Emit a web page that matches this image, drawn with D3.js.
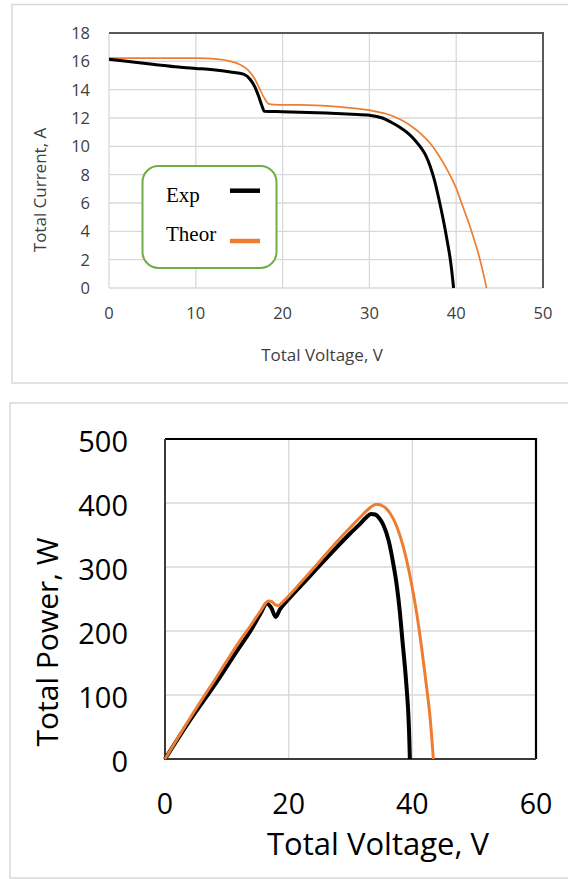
<!DOCTYPE html>
<html>
<head>
  <meta charset="utf-8">
  <title>I-V and P-V curves</title>
  <script src="https://d3js.org/d3.v7.min.js"></script>
  <style>
    body { margin: 0; background: #fff; }
    svg { display: block; font-family: "Open Sans", sans-serif; }
  </style>
</head>
<body>
<div id="chart"></div>
<script type="text/javascript">
  // ---- data ----
  // top chart: current vs voltage
  var expIvV = [0, 2, 5, 8, 10, 12, 14, 15.5, 16.3, 16.8, 17.2, 17.6, 17.9, 20, 25, 28, 30, 31.5, 32.5, 33.5, 34.5, 35.3, 36, 36.5, 37, 37.5, 38, 38.5, 39, 39.3, 39.5, 39.7];
  var expIvI = [16.15, 16.0, 15.8, 15.6, 15.5, 15.4, 15.25, 15.1, 14.7, 14.2, 13.6, 12.9, 12.48, 12.44, 12.35, 12.27, 12.2, 12.0, 11.7, 11.35, 10.9, 10.4, 9.85, 9.35, 8.6, 7.6, 6.3, 4.85, 3.2, 2.1, 1.15, 0];
  var theorIvV = [0, 5, 10, 12.5, 14, 15, 16, 16.8, 17.4, 17.9, 18.4, 19, 22, 25, 28, 30, 32, 33, 34, 35, 36, 37, 38, 39, 39.5, 40, 40.5, 41, 41.5, 42, 42.5, 43, 43.5];
  var theorIvI = [16.23, 16.23, 16.22, 16.15, 16.0, 15.8, 15.4, 14.75, 14.0, 13.4, 13.0, 12.95, 12.92, 12.85, 12.7, 12.55, 12.28, 12.05, 11.75, 11.35, 10.85, 10.22, 9.35, 8.3, 7.7, 7.05, 6.2, 5.35, 4.5, 3.55, 2.55, 1.35, 0];

  // bottom chart: power vs voltage
  var expPvV = [0, 4, 8.4, 12, 13.75, 15.5, 16.45, 17.2, 17.9, 18.6, 20, 22, 24.5, 27, 29.9, 31.5, 32.5, 33.3, 34, 34.6, 35.3, 36.2, 36.9, 37.5, 38, 38.4, 38.8, 39.1, 39.35, 39.5, 39.6];
  var expPvP = [0, 60, 121, 174, 199, 228, 243, 236, 222, 234, 250, 271, 297, 323, 352, 367, 377, 383, 382, 377, 366, 340, 306, 270, 228, 185, 144, 108, 71, 35, 0];
  var theorPvV = [0, 4, 8.4, 12, 13.75, 15.5, 16.7, 17.3, 17.8, 18.4, 19.1, 22, 24.5, 27, 29.9, 32, 33.2, 34.2, 35.3, 36.4, 37.5, 38.5, 39.6, 40.7, 41.5, 42.3, 42.9, 43.4];
  var theorPvP = [0, 63, 129, 183, 207, 232, 247, 246, 241, 240, 246, 276, 303, 331, 361, 382, 393, 398, 395, 384, 363, 333, 287, 228, 174, 113, 62, 0];

  var topXTicks = [0, 10, 20, 30, 40, 50];
  var topYTicks = [0, 2, 4, 6, 8, 10, 12, 14, 16, 18];
  var botXTicks = [0, 20, 40, 60];
  var botYTicks = [0, 100, 200, 300, 400, 500];
  var legendNames = ["Exp", "Theor"];

  var orange = "#ed7d31";
  var grid = "#d9d9d9";

  function pairs(xs, ys) {
    return xs.map(function (v, i) { return [v, ys[i]]; });
  }

  var svg = d3.select("#chart").append("svg")
    .attr("width", 568)
    .attr("height", 879);

  svg.append("rect").attr("width", 568).attr("height", 879).attr("fill", "#fff");

  // ================= top chart =================
  svg.append("rect")
    .attr("x", 12).attr("y", 4.5).attr("width", 600).attr("height", 378.5)
    .attr("fill", "none").attr("stroke", grid).attr("stroke-width", 1.5);

  var x1 = d3.scaleLinear().domain([0, 50]).range([109, 543]);
  var y1 = d3.scaleLinear().domain([0, 18]).range([288, 33]);

  var g1 = svg.append("g");

  g1.selectAll(".vg").data(topXTicks).enter().append("line")
    .attr("x1", function (d) { return x1(d); }).attr("x2", function (d) { return x1(d); })
    .attr("y1", y1(0)).attr("y2", y1(18))
    .attr("stroke", grid).attr("stroke-width", 1.3);
  g1.selectAll(".hg").data(topYTicks).enter().append("line")
    .attr("x1", x1(0)).attr("x2", x1(50))
    .attr("y1", function (d) { return y1(d); }).attr("y2", function (d) { return y1(d); })
    .attr("stroke", grid).attr("stroke-width", 1.3);

  // dark top + right border
  g1.append("path")
    .attr("d", "M" + x1(0) + "," + y1(18) + "H" + x1(50) + "V" + y1(0))
    .attr("fill", "none").attr("stroke", "#595959").attr("stroke-width", 2);

  g1.selectAll(".xt").data(topXTicks).enter().append("text")
    .attr("x", function (d) { return x1(d); })
    .attr("y", 319)
    .attr("text-anchor", "middle")
    .attr("font-size", 16.5).attr("fill", "#404040")
    .text(function (d) { return d; });
  g1.selectAll(".yt").data(topYTicks).enter().append("text")
    .attr("x", 90)
    .attr("y", function (d) { return y1(d); })
    .attr("dy", "0.36em")
    .attr("text-anchor", "end")
    .attr("font-size", 16.5).attr("fill", "#404040")
    .text(function (d) { return d; });

  g1.append("text")
    .attr("x", 322).attr("y", 361)
    .attr("text-anchor", "middle")
    .attr("font-size", 17).attr("fill", "#404040")
    .text("Total Voltage, V");
  g1.append("text")
    .attr("transform", "translate(46,190) rotate(-90)")
    .attr("text-anchor", "middle")
    .attr("font-size", 17).attr("fill", "#404040")
    .text("Total Current, A");

  var line1 = d3.line()
    .x(function (d) { return x1(d[0]); })
    .y(function (d) { return y1(d[1]); })
    .curve(d3.curveMonotoneX);

  g1.append("path").datum(pairs(theorIvV, theorIvI))
    .attr("d", line1).attr("fill", "none")
    .attr("stroke", orange).attr("stroke-width", 1.7);
  g1.append("path").datum(pairs(expIvV, expIvI))
    .attr("d", line1).attr("fill", "none")
    .attr("stroke", "#000").attr("stroke-width", 3)
    .attr("stroke-linejoin", "round");

  // legend
  var lg = g1.append("g");
  lg.append("rect")
    .attr("x", 142.5).attr("y", 166).attr("width", 134).attr("height", 102)
    .attr("rx", 16).attr("ry", 16)
    .attr("fill", "#fff").attr("stroke", "#70ad47").attr("stroke-width", 2);
  var legendColors = ["#000", orange];
  var legendY = [201.5, 241];
  var legendLineY = [190.7, 241];
  legendNames.forEach(function (n, i) {
    lg.append("text")
      .attr("x", 166).attr("y", legendY[i])
      .attr("font-family", "'Liberation Serif', 'Times New Roman', serif")
      .attr("font-size", 21).attr("fill", "#000")
      .text(n);
    lg.append("line")
      .attr("x1", 230).attr("x2", 260)
      .attr("y1", legendLineY[i]).attr("y2", legendLineY[i])
      .attr("stroke", legendColors[i]).attr("stroke-width", 4.5);
  });

  // ================= bottom chart =================
  svg.append("rect")
    .attr("x", 10).attr("y", 403).attr("width", 600).attr("height", 475)
    .attr("fill", "none").attr("stroke", grid).attr("stroke-width", 1.5);

  var x2 = d3.scaleLinear().domain([0, 60]).range([165, 536]);
  var y2 = d3.scaleLinear().domain([0, 500]).range([759, 439]);

  var g2 = svg.append("g");

  g2.selectAll(".vg").data(botXTicks.slice(1, -1)).enter().append("line")
    .attr("x1", function (d) { return x2(d); }).attr("x2", function (d) { return x2(d); })
    .attr("y1", y2(0)).attr("y2", y2(500))
    .attr("stroke", grid).attr("stroke-width", 1.3);
  g2.selectAll(".hg").data(botYTicks.slice(1, -1)).enter().append("line")
    .attr("x1", x2(0)).attr("x2", x2(60))
    .attr("y1", function (d) { return y2(d); }).attr("y2", function (d) { return y2(d); })
    .attr("stroke", grid).attr("stroke-width", 1.3);

  g2.append("path")
    .attr("d", "M" + x2(0) + "," + y2(500) + "H" + x2(60) + "V" + y2(0))
    .attr("fill", "none").attr("stroke", "#000").attr("stroke-width", 2.2);
  g2.append("path")
    .attr("d", "M" + x2(0) + "," + y2(500) + "V" + y2(0) + "H" + x2(60))
    .attr("fill", "none").attr("stroke", "#3a3a3a").attr("stroke-width", 2);

  g2.selectAll(".xt").data(botXTicks).enter().append("text")
    .attr("x", function (d) { return x2(d); })
    .attr("y", 814)
    .attr("text-anchor", "middle")
    .attr("font-size", 28.5).attr("fill", "#000")
    .text(function (d) { return d; });
  g2.selectAll(".yt").data(botYTicks).enter().append("text")
    .attr("x", 128)
    .attr("y", function (d) { return y2(d) + 3; })
    .attr("dy", "0.36em")
    .attr("text-anchor", "end")
    .attr("font-size", 29).attr("fill", "#000")
    .text(function (d) { return d; });

  g2.append("text")
    .attr("x", 378).attr("y", 855)
    .attr("text-anchor", "middle")
    .attr("font-size", 31).attr("fill", "#000")
    .text("Total Voltage, V");
  g2.append("text")
    .attr("transform", "translate(58,642) rotate(-90)")
    .attr("text-anchor", "middle")
    .attr("font-size", 30).attr("fill", "#000")
    .text("Total Power, W");

  var line2 = d3.line()
    .x(function (d) { return x2(d[0]); })
    .y(function (d) { return y2(d[1]); })
    .curve(d3.curveMonotoneX);

  g2.append("path").datum(pairs(expPvV, expPvP))
    .attr("d", line2).attr("fill", "none")
    .attr("stroke", "#000").attr("stroke-width", 4)
    .attr("stroke-linejoin", "round");
  g2.append("path").datum(pairs(theorPvV, theorPvP))
    .attr("d", line2).attr("fill", "none")
    .attr("stroke", orange).attr("stroke-width", 3)
    .attr("stroke-linejoin", "round");
</script>
</body>
</html>
